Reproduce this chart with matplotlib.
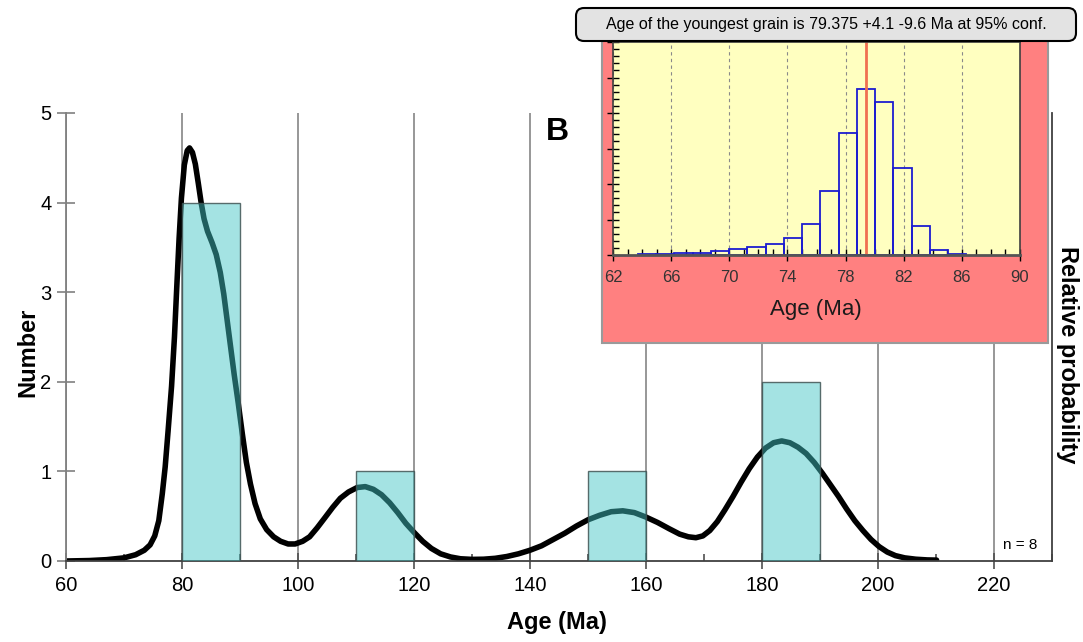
import numpy as np
import matplotlib
matplotlib.use('Agg')
import matplotlib.pyplot as plt
from matplotlib.patches import Rectangle, FancyBboxPatch
from matplotlib.ticker import MultipleLocator, NullFormatter

plt.rcParams['font.family'] = ['Liberation Sans', 'DejaVu Sans']

# Histograma d'edats (caixes de 10 Ma)
bin_left  = [80, 110, 150, 180]
bin_count = [4, 1, 1, 2]
bin_width = 10
n_grains  = 8

# Corba de probabilitat relativa (escalada a l'eix "Number")
pdp_age = [60.0, 64.0, 67.0, 70.0, 72.0, 73.5, 74.5, 75.3, 76.0, 76.6, 77.1, 77.6,
           78.2, 78.7, 79.1, 79.5, 79.9, 80.4, 80.9, 81.3, 81.8, 82.3, 82.8, 83.3,
           83.8, 84.4, 85.2, 85.9, 86.6, 87.2, 87.8, 88.4, 89.0, 89.7, 90.4, 91.1,
           91.8, 92.6, 93.5, 94.6, 95.8, 97.0, 98.3, 99.5, 100.8, 102.0, 103.3,
           104.6, 106.0, 107.3, 108.7, 110.2, 111.6, 113.0, 114.4, 115.8, 117.2,
           118.6, 120.0, 121.5, 123.0, 124.6, 126.3, 128.0, 130.0, 132.0, 134.0,
           136.0, 138.0, 140.0, 142.0, 144.0, 146.0, 148.0, 150.0, 152.0, 154.0,
           156.0, 158.0, 160.0, 162.0, 164.0, 165.8, 167.3, 168.6, 169.8, 171.0,
           172.3, 173.6, 175.0, 176.4, 177.8, 179.2, 180.6, 182.0, 183.4, 184.8,
           186.2, 187.6, 189.0, 190.4, 191.8, 193.2, 194.6, 196.0, 197.4, 198.8,
           200.2, 201.6, 203.0, 204.6, 206.5, 208.5, 210.1]
pdp_val = [0.000, 0.005, 0.015, 0.035, 0.07, 0.12, 0.18, 0.28, 0.45, 0.75, 1.05, 1.45,
           1.95, 2.50, 3.06, 3.60, 4.05, 4.42, 4.58, 4.61, 4.56, 4.43, 4.22, 4.00,
           3.82, 3.68, 3.55, 3.42, 3.22, 2.98, 2.68, 2.38, 2.08, 1.76, 1.42, 1.10,
           0.86, 0.64, 0.47, 0.35, 0.27, 0.22, 0.19, 0.19, 0.22, 0.27, 0.37,
           0.48, 0.60, 0.70, 0.77, 0.82, 0.83, 0.80, 0.74, 0.65, 0.54,
           0.42, 0.32, 0.22, 0.14, 0.08, 0.045, 0.025, 0.018, 0.02, 0.03,
           0.05, 0.08, 0.12, 0.17, 0.24, 0.31, 0.39, 0.46, 0.51, 0.55,
           0.56, 0.54, 0.49, 0.43, 0.36, 0.30, 0.27, 0.26, 0.28, 0.34,
           0.44, 0.57, 0.72, 0.88, 1.03, 1.16, 1.26, 1.32, 1.34, 1.32,
           1.27, 1.20, 1.10, 0.98, 0.85, 0.72, 0.58, 0.45, 0.34, 0.24,
           0.16, 0.10, 0.06, 0.035, 0.02, 0.012, 0.01]

# Edat del gra mes jove (distribucio del recuadre)
yg_edges   = [63.72, 64.97, 66.23, 67.48, 68.74, 69.99, 71.25, 72.50, 73.76, 75.01,
              76.27, 77.52, 78.78, 80.03, 81.29, 82.54, 83.80, 85.05, 86.31]
yg_heights = [0.02, 0.02, 0.05, 0.07, 0.11, 0.16, 0.23, 0.31, 0.48, 0.87,
              1.79, 3.43, 4.67, 4.31, 2.46, 0.83, 0.14, 0.02]
yg_age   = 79.375
yg_plus  = 4.1
yg_minus = 9.6

W, H = 1083, 642
fig = plt.figure(figsize=(W/100, H/100), dpi=100)

def fx(px): return px/W
def fy(py): return (H-py)/H

# ---- Eix principal
ax = fig.add_axes([fx(66), fy(561), fx(1052-66), (561-113)/H])
ax.set_xlim(60, 230)
ax.set_ylim(0, 5)
ax.set_axisbelow(True)
ax.plot(pdp_age, pdp_val, color='black', lw=4, zorder=2,
        solid_joinstyle='round', solid_capstyle='round')
ax.bar(bin_left, bin_count, width=bin_width, align='edge',
       facecolor=(0.255, 0.776, 0.776, 0.48), edgecolor=(0.25, 0.33, 0.33, 0.85),
       linewidth=1, zorder=3)

ax.set_xticks(range(60, 221, 20))
ax.xaxis.set_minor_locator(MultipleLocator(10))
ax.set_yticks(range(0, 6))
ax.xaxis.grid(True, color='#858585', lw=1.2)
ax.tick_params(axis='x', which='major', direction='inout', length=12, width=1.2,
               color='#505050', labelsize=14.5, pad=5)
ax.tick_params(axis='x', which='minor', direction='in', length=5, width=1.2, color='#505050')
ax.tick_params(axis='y', which='major', direction='inout', length=13, width=1.2,
               color='#808080', labelsize=14.5, pad=4)
ax.spines['top'].set_visible(False)
ax.spines['left'].set_color('#808080')
ax.spines['bottom'].set_color('#404040')
ax.spines['right'].set_color('#404040')
for s in ('left', 'bottom', 'right'):
    ax.spines[s].set_linewidth(1.3)

fig.text(fx(557), fy(623), 'Age (Ma)', fontsize=17, fontweight='bold', ha='center', va='center')
fig.text(fx(28), fy(352), 'Number', fontsize=17, fontweight='bold', rotation=90,
         ha='center', va='center')
fig.text(fx(1068), fy(355), 'Relative probability', fontsize=17, fontweight='bold',
         rotation=270, ha='center', va='center')
ax.text(0.985, 0.035, 'n = %d' % n_grains, transform=ax.transAxes, fontsize=11,
        ha='right', va='center')
fig.text(fx(557), fy(132), 'B', fontsize=23, fontweight='bold', ha='center', va='center')

# ---- Recuadre: fons rosa
fons = Rectangle((fx(602), fy(343)), fx(446), 318/H, transform=fig.transFigure,
                 facecolor='#FF8080', edgecolor='#9a9a9a', lw=1.5, zorder=2)
fig.add_artist(fons)

ax_in = fig.add_axes([fx(613), fy(255), fx(1020-613), (255-42)/H], facecolor='#FFFFC0')
ax_in.set_zorder(3)
ax_in.set_xlim(62, 90)
ax_in.set_ylim(0, 6)
ax_in.set_axisbelow(True)
ax_in.bar(yg_edges[:-1], yg_heights, width=np.diff(yg_edges), align='edge',
          fill=False, edgecolor='#1c1cd0', linewidth=1.3)
ax_in.axvline(yg_age, color='#F07050', lw=2)
ax_in.set_xticks(range(62, 91, 4))
ax_in.xaxis.set_minor_locator(MultipleLocator(1))
ax_in.yaxis.set_major_locator(MultipleLocator(1))
ax_in.yaxis.set_minor_locator(MultipleLocator(0.2))
ax_in.yaxis.set_major_formatter(NullFormatter())
ax_in.xaxis.grid(True, color='#8a8a8a', lw=0.8, ls=(0, (3, 3)))
ax_in.tick_params(which='major', direction='inout', length=8, width=1, color='black',
                  labelsize=12, labelcolor='#333333', pad=7)
ax_in.tick_params(which='minor', direction='in', length=4, width=1, color='black')
for s in ax_in.spines.values():
    s.set_color('#404040')
    s.set_linewidth(1.2)
ax_in.spines['bottom'].set_color('#555555')
ax_in.spines['bottom'].set_linewidth(2)
fig.text(fx(816), fy(309), 'Age (Ma)', fontsize=16, color='#1a1a1a', ha='center', va='center')

# ---- Capsa del titol
ax_t = fig.add_axes([fx(575), fy(42), fx(502), 35/H])
ax_t.set_zorder(4)
ax_t.set_xlim(0, 502)
ax_t.set_ylim(0, 35)
ax_t.axis('off')
ax_t.add_patch(FancyBboxPatch((1, 1), 500, 33, boxstyle='round,pad=0,rounding_size=8',
                              facecolor='#E3E3E3', edgecolor='black', lw=1.5, clip_on=False))
ax_t.text(251, 17.5, 'Age of the youngest grain is %s +%s -%s Ma at 95%% conf.'
          % (yg_age, yg_plus, yg_minus), fontsize=11.5, ha='center', va='center')

fig.savefig('out.png', dpi=100)
